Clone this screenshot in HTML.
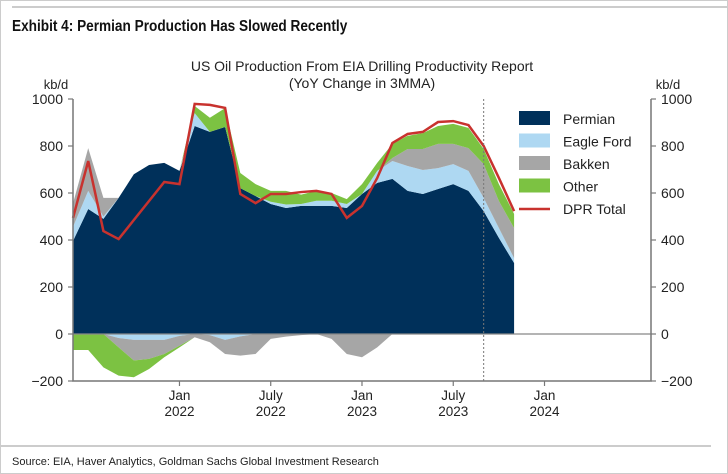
<!DOCTYPE html>
<html><head><meta charset="utf-8"><style>
body{margin:0;background:#fff;}
#wrap{position:relative;width:728px;height:474px;overflow:hidden;background:#fff;box-sizing:border-box;border:1px solid #ccc;}
svg{position:absolute;left:0;top:0;font-family:"Liberation Sans",sans-serif;}
</style></head><body>
<div id="wrap">
<svg id="chart" width="728" height="474">
<line x1="11" y1="6" x2="728" y2="6" stroke="#bbb" stroke-width="1.5"/>
<text x="11" y="30" font-size="15.5" font-weight="bold" fill="#111" transform="scale(0.88,1)" transform-origin="11 30">Exhibit 4: Permian Production Has Slowed Recently</text>
<text x="361" y="70" font-size="14" text-anchor="middle" fill="#222">US Oil Production From EIA Drilling Productivity Report</text>
<text x="361" y="87" font-size="14" text-anchor="middle" fill="#222">(YoY Change in 3MMA)</text>
<text x="55" y="88" font-size="13" text-anchor="middle" fill="#222">kb/d</text>
<text x="667" y="88" font-size="13" text-anchor="middle" fill="#222">kb/d</text>
<g id="marks"></g>
<g id="axes"></g>
<g id="legend"></g>
<line x1="0" y1="445" x2="710" y2="445" stroke="#bbb" stroke-width="1.5"/>
<text x="11" y="464" font-size="11" fill="#222">Source: EIA, Haver Analytics, Goldman Sachs Global Investment Research</text>
</svg>
</div>
<script>
const months = ["Jun21","Jul21","Aug21","Sep21","Oct21","Nov21","Dec21","Jan22","Feb22","Mar22","Apr22","May22","Jun22","Jul22","Aug22","Sep22","Oct22","Nov22","Dec22","Jan23","Feb23","Mar23","Apr23","May23","Jun23","Jul23","Aug23","Sep23","Oct23","Nov23"];
const permian = [396,532,490,579,680,719,728,694,885,860,881,621,587,553,536,545,545,545,536,596,643,660,609,596,617,638,609,523,409,302];
const eagleFord = [60,77,10,-17,-25,-25,-25,-8,55,-5,-25,-10,0,10,15,8,22,22,17,0,51,76,106,102,89,85,85,56,42,21];
const bakken = [100,182,79,-40,-88,-81,-60,-42,-14,-30,-60,-82,-85,-21,-11,-5,0,-21,-85,-99,-57,13,72,89,103,86,97,144,115,128];
const other = [-68,-68,-142,-120,-71,-43,-14,-7,30,60,80,64,51,46,58,40,42,33,21,42,34,60,56,68,76,85,86,64,72,60];
const dprTotal = [494,736,438,404,485,566,647,638,979,975,962,596,557,596,596,604,609,596,494,545,664,813,851,860,902,906,889,800,664,523];
const yTicks = [-200,0,200,400,600,800,1000];
const xTickIdx = [7,13,19,25,31];
const xTickLabels = [["Jan","2022"],["July","2022"],["Jan","2023"],["July","2023"],["Jan","2024"]];
const seriesNames = ["Permian","Eagle Ford","Bakken","Other","DPR Total"];
const colors = ["#00305a","#aed8f2","#a6a6a6","#7cc242","#c8322e"];
const dashedIdx = 27;

const NS="http://www.w3.org/2000/svg";
const X0=72, XSTEP=15.21, PL=72, PR=650, YT=98, YB=380;
const x = i => X0 + i*XSTEP;
const y = v => 333 - v*0.235;
function mk(tag, attrs, parent){const e=document.createElementNS(NS,tag);for(const k in attrs)e.setAttribute(k,attrs[k]);parent.appendChild(e);return e;}
const marks=document.getElementById('marks'), axes=document.getElementById('axes'), legend=document.getElementById('legend');

const stacks=[permian,eagleFord,bakken,other];
const posBase=months.map(()=>0), negBase=months.map(()=>0);
const keys=["permian","eagle-ford","bakken","other"];
stacks.forEach((s,si)=>{
  const lo=posBase.slice(), hi=posBase.map((b,i)=>b+Math.max(0,s[i]));
  let d="M"+months.map((_,i)=>x(i)+","+y(hi[i])).join("L")+"L"+months.map((_,i)=>x(i)+","+y(lo[i])).reverse().join("L")+"Z";
  const p=mk('path',{d:d,fill:colors[si]},marks);
  
  
  hi.forEach((v,i)=>posBase[i]=v);
  const nlo=negBase.slice(), nhi=negBase.map((b,i)=>b+Math.min(0,s[i]));
  d="M"+months.map((_,i)=>x(i)+","+y(nlo[i])).join("L")+"L"+months.map((_,i)=>x(i)+","+y(nhi[i])).reverse().join("L")+"Z";
  const n=mk('path',{d:d,fill:colors[si]},marks);
  
  
  nhi.forEach((v,i)=>negBase[i]=v);
});
const line=mk('polyline',{points:dprTotal.map((v,i)=>x(i)+","+y(v)).join(" "),fill:"none",stroke:colors[4],"stroke-width":2.5,"stroke-linejoin":"miter"},marks);



const dl=mk('line',{x1:x(dashedIdx),x2:x(dashedIdx),y1:YT,y2:YB,stroke:"#777","stroke-dasharray":"2,2","stroke-width":1},axes);



const zl=mk('line',{x1:PL,x2:PR,y1:y(0),y2:y(0),stroke:"#888","stroke-width":1.2},axes);


const la=mk('path',{d:`M${PL},${YT}V${YB}H${PR}V${YT}`,fill:"none",stroke:"#777","stroke-width":1.5},axes);



yTicks.forEach(t=>{
  const yy=y(t);
  mk('line',{x1:PL-5,x2:PL,y1:yy,y2:yy,stroke:"#777","stroke-width":1.2},axes);
  mk('line',{x1:PR,x2:PR+5,y1:yy,y2:yy,stroke:"#777","stroke-width":1.2},axes);
  const tl=mk('text',{x:PL-10,y:yy+5,"font-size":14,"text-anchor":"end",fill:"#222"},axes);
  tl.textContent=t<0?"\u2212"+(-t):t;
  
  
  const tr=mk('text',{x:PR+10,y:yy+5,"font-size":14,"text-anchor":"start",fill:"#222"},axes);
  tr.textContent=t<0?"\u2212"+(-t):t;
  
  
});
xTickIdx.forEach((ti,k)=>{
  const xx=x(ti);
  mk('line',{x1:xx,x2:xx,y1:YB,y2:YB+5,stroke:"#777","stroke-width":1.2},axes);
  const t1=mk('text',{x:xx,y:YB+19,"font-size":13.5,"text-anchor":"middle",fill:"#222"},axes);
  t1.textContent=xTickLabels[k][0];
  
  
  const t2=mk('text',{x:xx,y:YB+35,"font-size":13.5,"text-anchor":"middle",fill:"#222"},axes);
  t2.textContent=xTickLabels[k][1];
  
  
});

seriesNames.forEach((nm,i)=>{
  const yy=118+i*22.5;
  const g=mk('g',{},legend);
  
  
  if(i<4) mk('rect',{x:518,y:yy-8,width:31,height:14,fill:colors[i]},g);
  else mk('line',{x1:518,x2:549,y1:yy,y2:yy,stroke:colors[i],"stroke-width":2.5},g);
  const t=mk('text',{x:562,y:yy+5,"font-size":14,fill:"#222"},g);
  t.textContent=nm;
});
</script>
</body></html>
